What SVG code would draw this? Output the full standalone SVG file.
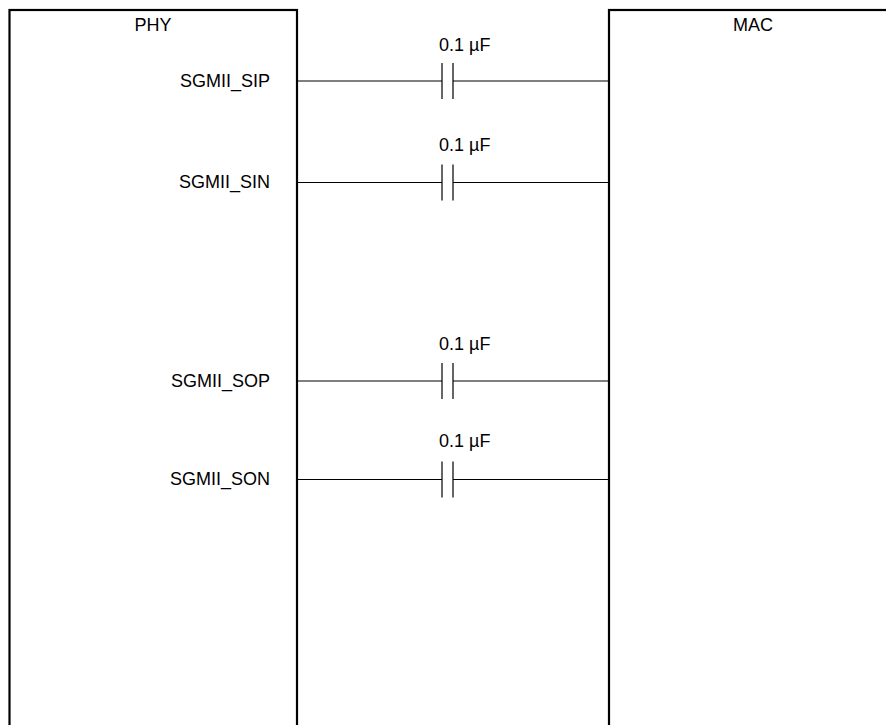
<svg xmlns="http://www.w3.org/2000/svg" width="886" height="725" viewBox="0 0 886 725">
<style>
.box{fill:#fff;stroke:#000;stroke-width:2.2}
.w{stroke:#000;stroke-width:1.2;fill:none}
text{font-family:"Liberation Sans",Arial,sans-serif;font-size:18px;fill:#000}
</style>
<rect width="886" height="725" fill="#fff"/>
<g id="phy">
<rect class="box" x="9.5" y="10" width="287.5" height="730"/>
<text x="153" y="31" text-anchor="middle">PHY</text>
<text x="270" y="87" text-anchor="end">SGMII_SIP</text>
<text x="270" y="188" text-anchor="end">SGMII_SIN</text>
<text x="270" y="387" text-anchor="end">SGMII_SOP</text>
<text x="270" y="485" text-anchor="end">SGMII_SON</text>
</g>
<g id="mac">
<rect class="box" x="609" y="10" width="288" height="730"/>
<text x="753" y="31" text-anchor="middle">MAC</text>
</g>
<g id="connectors">
<g id="c1">
<path class="w" d="M297 81H442M453 81H609M442 63V99M453 63V99"/>
<text x="439" y="51">0.1 µF</text>
</g>
<g id="c2">
<path class="w" d="M297 182.5H442M453 182.5H609M442 164.5V200.5M453 164.5V200.5"/>
<text x="439" y="151">0.1 µF</text>
</g>
<g id="c3">
<path class="w" d="M297 381H442M453 381H609M442 363V399M453 363V399"/>
<text x="439" y="350">0.1 µF</text>
</g>
<g id="c4">
<path class="w" d="M297 479.5H442M453 479.5H609M442 461.5V497.5M453 461.5V497.5"/>
<text x="439" y="447">0.1 µF</text>
</g>
</g>
</svg>
